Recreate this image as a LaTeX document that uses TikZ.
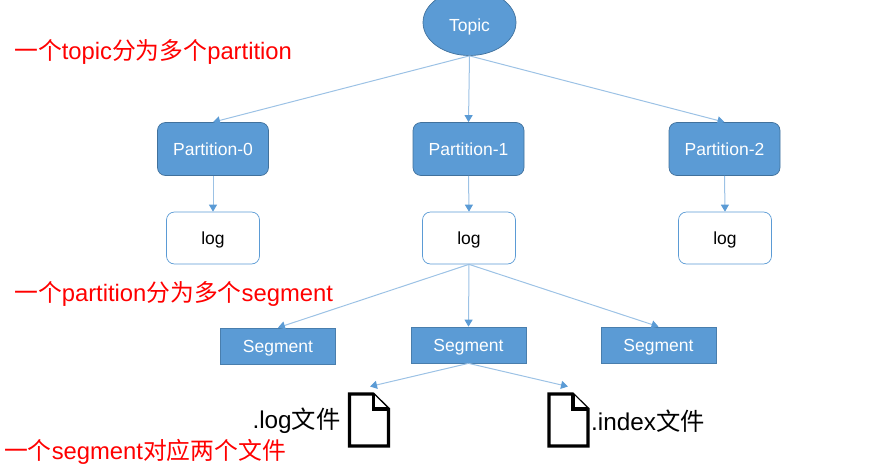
\documentclass[tikz,border=0pt]{standalone}
\usepackage{fontspec}
\setmainfont{Liberation Sans}
\newfontfamily\cjk{Noto Sans CJK SC}
\usetikzlibrary{arrows.meta,shapes.geometric}
\definecolor{fillblue}{HTML}{5B9BD5}
\definecolor{edgeblue}{HTML}{41719C}
\definecolor{lineblue}{HTML}{9CC2E5}
\definecolor{tipblue}{HTML}{5B9BD5}
\newcommand{\lowered}[2]{\raisebox{-#1pt}[0pt][0pt]{#2}}
\tikzset{
  topicnode/.style={ellipse,draw=edgeblue,fill=fillblue,line width=.7pt,minimum width=93pt,minimum height=66pt,inner sep=0pt,text=white,font=\fontsize{17.5}{20}\selectfont},
  partnode/.style={rectangle,rounded corners=8pt,draw=edgeblue,fill=fillblue,line width=.7pt,minimum width=111pt,minimum height=53pt,inner sep=0pt,text=white,font=\fontsize{17.5}{20}\selectfont},
  lognode/.style={rectangle,rounded corners=8pt,draw=fillblue,fill=white,line width=.7pt,minimum width=93pt,minimum height=52pt,inner sep=0pt,text=black,font=\fontsize{17.5}{20}\selectfont},
  segnode/.style={rectangle,draw=edgeblue!70!fillblue,fill=fillblue,line width=.7pt,minimum width=115pt,minimum height=36pt,inner sep=0pt,text=white,font=\fontsize{17.5}{20}\selectfont},
  redtext/.style={anchor=west,inner sep=0pt,text=red,font=\fontsize{23.8}{28}\selectfont},
  filelabel/.style={inner sep=0pt,text=black,font=\fontsize{24.3}{28}\selectfont},
  link/.style={draw=lineblue,line width=1pt,-{Triangle[length=7pt,width=8pt,color=tipblue]}},
  fileicon/.style={draw=black,line width=3.2pt,fill=white,line join=miter},
}
\begin{document}
\begin{tikzpicture}[x=1pt,y=-1pt]
\useasboundingbox (0,0) rectangle (883,469);
\clip (0,0) rectangle (883,469);
\node[topicnode] (topic) at (469.5,22.5) {\lowered{8.5}{Topic}};
\node[partnode] (p0) at (213,149) {\lowered{6.7}{Partition-0}};
\node[partnode] (p1) at (468.5,149) {\lowered{6.7}{Partition-1}};
\node[partnode] (p2) at (724.5,149) {\lowered{6.7}{Partition-2}};
\node[lognode] (l0) at (213,238) {\lowered{6}{log}};
\node[lognode] (l1) at (469,238) {\lowered{6}{log}};
\node[lognode] (l2) at (725,238) {\lowered{6}{log}};
\node[segnode] (s0) at (278,346) {\lowered{6.5}{Segment}};
\node[segnode] (s1) at (468.5,345) {\lowered{6.5}{Segment}};
\node[segnode] (s2) at (658.5,345) {\lowered{6.5}{Segment}};

\coordinate (ftip0) at (370,386.5);
\coordinate (ftip1) at (568,386.5);
\draw[link] (topic.south) -- (p0.north);
\draw[link] (topic.south) -- (p1.north);
\draw[link] (topic.south) -- (p2.north);
\draw[link] (p0.south) -- (l0.north);
\draw[link] (p1.south) -- (l1.north);
\draw[link] (p2.south) -- (l2.north);
\draw[link] (l1.south) -- (s0.north);
\draw[link] (l1.south) -- (s1.north);
\draw[link] (l1.south) -- (s2.north);
\draw[link] (s1.south) -- (ftip0);
\draw[link] (s1.south) -- (ftip1);

% file icons
\draw[fileicon] (349.5,394) -- (373,394) -- (388.5,409) -- (388.5,446) -- (349.5,446) -- cycle;
\draw[fileicon] (373.5,394) -- (373.5,409) -- (388.5,409);
\draw[fileicon] (549,394) -- (572.5,394) -- (588,409) -- (588,446) -- (549,446) -- cycle;
\draw[fileicon] (573,394) -- (573,409) -- (588,409);

\node[filelabel,anchor=east] (flog) at (340.5,421) {.log{\cjk 文件}};
\node[filelabel,anchor=west] (findex) at (591,421) {.index{\cjk 文件}};

\node[redtext] (t1) at (14,52) {{\cjk 一个}topic{\cjk 分为多个}partition};
\node[redtext] (t2) at (14,293.5) {{\cjk 一个}partition{\cjk 分为多个}segment};
\node[redtext] (t3) at (4,452) {{\cjk 一个}segment{\cjk 对应两个文件}};
\end{tikzpicture}
\end{document}
